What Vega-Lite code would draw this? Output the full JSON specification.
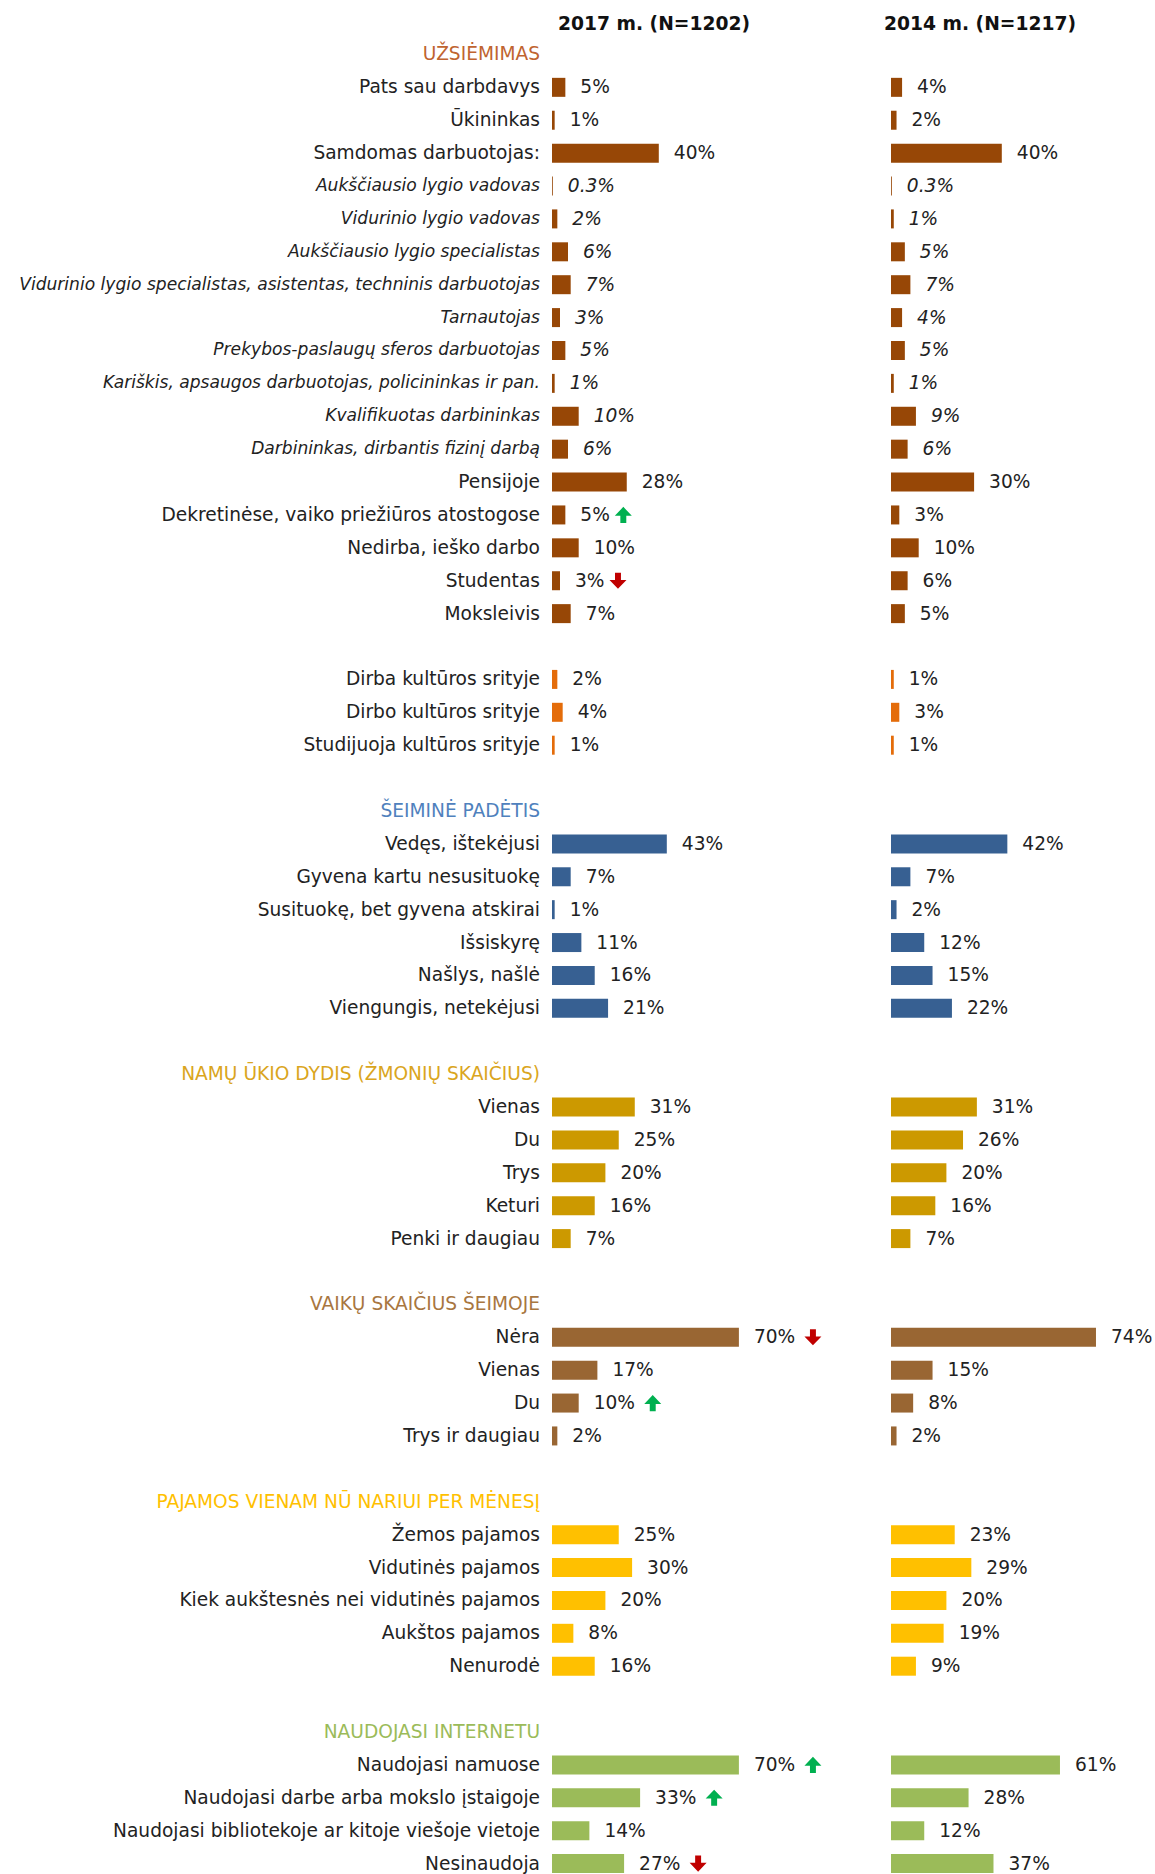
{
  "$schema": "https://vega.github.io/schema/vega-lite/v6.json",
  "autosize": {"type": "none"},
  "padding": {"left": 552, "top": 38, "right": 603, "bottom": 1836},
  "background": "white",
  "bounds": "flush",
  "spacing": 72,
  "data": {"values": [
    {"r": 0, "label": "UŽSIĖMIMAS", "g": "occ", "k": "h"},
    {"r": 1, "label": "Pats sau darbdavys", "g": "occ", "k": "i", "v17": 0.05, "v14": 0.04},
    {"r": 2, "label": "Ūkininkas", "g": "occ", "k": "i", "v17": 0.01, "v14": 0.02},
    {"r": 3, "label": "Samdomas darbuotojas:", "g": "occ", "k": "i", "v17": 0.40, "v14": 0.40},
    {"r": 4, "label": "Aukščiausio lygio vadovas", "g": "occ", "k": "s", "v17": 0.003, "v14": 0.003},
    {"r": 5, "label": "Vidurinio lygio vadovas", "g": "occ", "k": "s", "v17": 0.02, "v14": 0.01},
    {"r": 6, "label": "Aukščiausio lygio specialistas", "g": "occ", "k": "s", "v17": 0.06, "v14": 0.05},
    {"r": 7, "label": "Vidurinio lygio specialistas, asistentas, techninis darbuotojas", "g": "occ", "k": "s", "v17": 0.07, "v14": 0.07},
    {"r": 8, "label": "Tarnautojas", "g": "occ", "k": "s", "v17": 0.03, "v14": 0.04},
    {"r": 9, "label": "Prekybos-paslaugų sferos darbuotojas", "g": "occ", "k": "s", "v17": 0.05, "v14": 0.05},
    {"r": 10, "label": "Kariškis, apsaugos darbuotojas, policininkas ir pan.", "g": "occ", "k": "s", "v17": 0.01, "v14": 0.01},
    {"r": 11, "label": "Kvalifikuotas darbininkas", "g": "occ", "k": "s", "v17": 0.10, "v14": 0.09},
    {"r": 12, "label": "Darbininkas, dirbantis fizinį darbą", "g": "occ", "k": "s", "v17": 0.06, "v14": 0.06},
    {"r": 13, "label": "Pensijoje", "g": "occ", "k": "i", "v17": 0.28, "v14": 0.30},
    {"r": 14, "label": "Dekretinėse, vaiko priežiūros atostogose", "g": "occ", "k": "i", "v17": 0.05, "v14": 0.03, "a17": "up"},
    {"r": 15, "label": "Nedirba, ieško darbo", "g": "occ", "k": "i", "v17": 0.10, "v14": 0.10},
    {"r": 16, "label": "Studentas", "g": "occ", "k": "i", "v17": 0.03, "v14": 0.06, "a17": "down"},
    {"r": 17, "label": "Moksleivis", "g": "occ", "k": "i", "v17": 0.07, "v14": 0.05},
    {"r": 18, "label": "", "g": "", "k": "b"},
    {"r": 19, "label": "Dirba kultūros srityje", "g": "cult", "k": "i", "v17": 0.02, "v14": 0.01},
    {"r": 20, "label": "Dirbo kultūros srityje", "g": "cult", "k": "i", "v17": 0.04, "v14": 0.03},
    {"r": 21, "label": "Studijuoja kultūros srityje", "g": "cult", "k": "i", "v17": 0.01, "v14": 0.01},
    {"r": 22, "label": "", "g": "", "k": "b"},
    {"r": 23, "label": "ŠEIMINĖ PADĖTIS", "g": "fam", "k": "h"},
    {"r": 24, "label": "Vedęs, ištekėjusi", "g": "fam", "k": "i", "v17": 0.43, "v14": 0.42},
    {"r": 25, "label": "Gyvena kartu nesusituokę", "g": "fam", "k": "i", "v17": 0.07, "v14": 0.07},
    {"r": 26, "label": "Susituokę, bet gyvena atskirai", "g": "fam", "k": "i", "v17": 0.01, "v14": 0.02},
    {"r": 27, "label": "Išsiskyrę", "g": "fam", "k": "i", "v17": 0.11, "v14": 0.12},
    {"r": 28, "label": "Našlys, našlė", "g": "fam", "k": "i", "v17": 0.16, "v14": 0.15},
    {"r": 29, "label": "Viengungis, netekėjusi", "g": "fam", "k": "i", "v17": 0.21, "v14": 0.22},
    {"r": 30, "label": "", "g": "", "k": "b"},
    {"r": 31, "label": "NAMŲ ŪKIO DYDIS (ŽMONIŲ SKAIČIUS)", "g": "hh", "k": "h"},
    {"r": 32, "label": "Vienas", "g": "hh", "k": "i", "v17": 0.31, "v14": 0.31},
    {"r": 33, "label": "Du", "g": "hh", "k": "i", "v17": 0.25, "v14": 0.26},
    {"r": 34, "label": "Trys", "g": "hh", "k": "i", "v17": 0.20, "v14": 0.20},
    {"r": 35, "label": "Keturi", "g": "hh", "k": "i", "v17": 0.16, "v14": 0.16},
    {"r": 36, "label": "Penki ir daugiau", "g": "hh", "k": "i", "v17": 0.07, "v14": 0.07},
    {"r": 37, "label": "", "g": "", "k": "b"},
    {"r": 38, "label": "VAIKŲ SKAIČIUS ŠEIMOJE", "g": "kids", "k": "h"},
    {"r": 39, "label": "Nėra", "g": "kids", "k": "i", "v17": 0.70, "v14": 0.74, "a17": "down"},
    {"r": 40, "label": "Vienas", "g": "kids", "k": "i", "v17": 0.17, "v14": 0.15},
    {"r": 41, "label": "Du", "g": "kids", "k": "i", "v17": 0.10, "v14": 0.08, "a17": "up"},
    {"r": 42, "label": "Trys ir daugiau", "g": "kids", "k": "i", "v17": 0.02, "v14": 0.02},
    {"r": 43, "label": "", "g": "", "k": "b"},
    {"r": 44, "label": "PAJAMOS VIENAM NŪ NARIUI PER MĖNESĮ", "g": "inc", "k": "h"},
    {"r": 45, "label": "Žemos pajamos", "g": "inc", "k": "i", "v17": 0.25, "v14": 0.23},
    {"r": 46, "label": "Vidutinės pajamos", "g": "inc", "k": "i", "v17": 0.30, "v14": 0.29},
    {"r": 47, "label": "Kiek aukštesnės nei vidutinės pajamos", "g": "inc", "k": "i", "v17": 0.20, "v14": 0.20},
    {"r": 48, "label": "Aukštos pajamos", "g": "inc", "k": "i", "v17": 0.08, "v14": 0.19},
    {"r": 49, "label": "Nenurodė", "g": "inc", "k": "i", "v17": 0.16, "v14": 0.09},
    {"r": 50, "label": "", "g": "", "k": "b"},
    {"r": 51, "label": "NAUDOJASI INTERNETU", "g": "net", "k": "h"},
    {"r": 52, "label": "Naudojasi namuose", "g": "net", "k": "i", "v17": 0.70, "v14": 0.61, "a17": "up"},
    {"r": 53, "label": "Naudojasi darbe arba mokslo įstaigoje", "g": "net", "k": "i", "v17": 0.33, "v14": 0.28, "a17": "up"},
    {"r": 54, "label": "Naudojasi bibliotekoje ar kitoje viešoje vietoje", "g": "net", "k": "i", "v17": 0.14, "v14": 0.12},
    {"r": 55, "label": "Nesinaudoja", "g": "net", "k": "i", "v17": 0.27, "v14": 0.37, "a17": "down"}
  ]},
  "resolve": {"scale": {"x": "independent", "y": "shared"}},
  "hconcat": [
    {
      "width": 267,
      "height": 1842,
      "title": {"text": "2017 m. (N=1202)", "anchor": "start", "dx": 6, "dy": 17, "frame": "group", "offset": 12, "baseline": "middle", "font": "DejaVu Sans", "fontSize": 18.7, "fontWeight": "bold", "color": "#111111"},
      "encoding": {"y": {"field": "r", "type": "ordinal", "axis": null, "scale": {"paddingInner": 0, "paddingOuter": 0}}},
      "layer": [
        {
          "mark": {"type": "text", "align": "right", "baseline": "middle", "dx": -12, "font": "DejaVu Sans", "fontSize": {"expr": "datum.k == 's' ? 17.1 : 18.6"}, "fontStyle": {"expr": "datum.k == 's' ? 'italic' : 'normal'"}},
          "encoding": {
            "x": {"datum": 0, "type": "quantitative", "scale": {"domain": [0, 1]}, "axis": null},
            "text": {"field": "label"},
            "fill": {
              "condition": {"test": "datum.k == 'h'", "field": "g", "type": "nominal",
                "scale": {"domain": ["occ", "cult", "fam", "hh", "kids", "inc", "net"], "range": ["#BF6430", "#E46C0A", "#4F81BD", "#DAA520", "#A87640", "#FFC000", "#9BBB59"]},
                "legend": null},
              "value": "#222222"
            }
          }
        },
        {
          "transform": [{"filter": "isValid(datum.v17)"}],
          "mark": {"type": "bar", "size": 19},
          "encoding": {
            "x": {"field": "v17", "type": "quantitative", "scale": {"domain": [0, 1]}, "axis": null},
            "color": {"field": "g", "type": "nominal", "legend": null,
              "scale": {"domain": ["occ", "cult", "fam", "hh", "kids", "inc", "net"], "range": ["#974706", "#E46C0A", "#376092", "#CC9900", "#996633", "#FFC000", "#9BBB59"]}}
          }
        },
        {
          "transform": [{"filter": "isValid(datum.v17)"}],
          "mark": {"type": "text", "align": "left", "baseline": "middle", "dx": 15, "font": "DejaVu Sans", "fontSize": 18.6, "color": "#222222", "fontStyle": {"expr": "datum.k == 's' ? 'italic' : 'normal'"}},
          "encoding": {
            "x": {"field": "v17", "type": "quantitative"},
            "text": {"field": "v17", "type": "quantitative", "format": ".1~%"}
          }
        },
        {
          "transform": [{"filter": "isValid(datum.a17) && datum.v17 < 0.1"}],
          "mark": {"type": "point", "filled": true, "size": 289, "strokeWidth": 0, "opacity": 1},
          "encoding": {
            "x": {"field": "v17", "type": "quantitative"},
            "shape": {"condition": {"test": "datum.a17 == 'up'", "value": "M6.82,-0.95L7.82,0.1L7.17,0.1L7.17,0.95L6.47,0.95L6.47,0.1L5.82,0.1Z"}, "value": "M6.82,0.95L7.82,-0.1L7.17,-0.1L7.17,-0.95L6.47,-0.95L6.47,-0.1L5.82,-0.1Z"},
            "color": {"condition": {"test": "datum.a17 == 'up'", "value": "#00B050"}, "value": "#C00000"}
          }
        },
        {
          "transform": [{"filter": "isValid(datum.a17) && datum.v17 >= 0.1"}],
          "mark": {"type": "point", "filled": true, "size": 289, "strokeWidth": 0, "opacity": 1},
          "encoding": {
            "x": {"field": "v17", "type": "quantitative"},
            "shape": {"condition": {"test": "datum.a17 == 'up'", "value": "M8.71,-0.95L9.71,0.1L9.06,0.1L9.06,0.95L8.36,0.95L8.36,0.1L7.71,0.1Z"}, "value": "M8.71,0.95L9.71,-0.1L9.06,-0.1L9.06,-0.95L8.36,-0.95L8.36,-0.1L7.71,-0.1Z"},
            "color": {"condition": {"test": "datum.a17 == 'up'", "value": "#00B050"}, "value": "#C00000"}
          }
        }
      ]
    },
    {
      "width": 277,
      "height": 1842,
      "title": {"text": "2014 m. (N=1217)", "anchor": "start", "dx": -7, "dy": 17, "frame": "group", "offset": 12, "baseline": "middle", "font": "DejaVu Sans", "fontSize": 18.7, "fontWeight": "bold", "color": "#111111"},
      "encoding": {"y": {"field": "r", "type": "ordinal", "axis": null, "scale": {"paddingInner": 0, "paddingOuter": 0}}},
      "layer": [
        {
          "transform": [{"filter": "isValid(datum.v14)"}],
          "mark": {"type": "bar", "size": 19},
          "encoding": {
            "x": {"field": "v14", "type": "quantitative", "scale": {"domain": [0, 1]}, "axis": null},
            "color": {"field": "g", "type": "nominal", "legend": null,
              "scale": {"domain": ["occ", "cult", "fam", "hh", "kids", "inc", "net"], "range": ["#974706", "#E46C0A", "#376092", "#CC9900", "#996633", "#FFC000", "#9BBB59"]}}
          }
        },
        {
          "transform": [{"filter": "isValid(datum.v14)"}],
          "mark": {"type": "text", "align": "left", "baseline": "middle", "dx": 15, "font": "DejaVu Sans", "fontSize": 18.6, "color": "#222222", "fontStyle": {"expr": "datum.k == 's' ? 'italic' : 'normal'"}},
          "encoding": {
            "x": {"field": "v14", "type": "quantitative"},
            "text": {"field": "v14", "type": "quantitative", "format": ".1~%"}
          }
        }
      ]
    }
  ],
  "config": {"view": {"stroke": null}}
}
